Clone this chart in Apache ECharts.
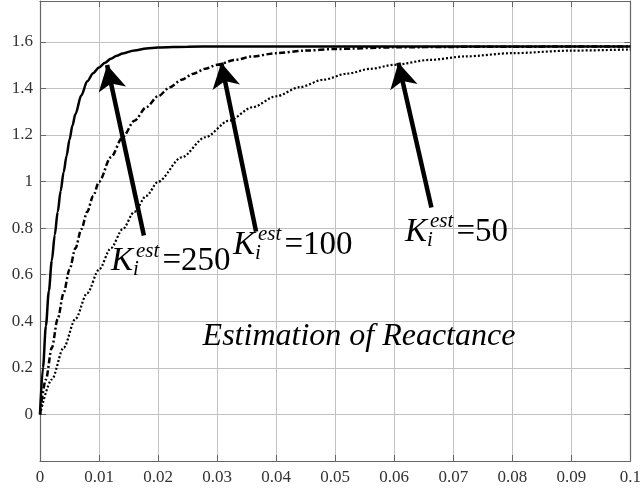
<!DOCTYPE html>
<html><head><meta charset="utf-8">
<script src="https://cdn.jsdelivr.net/npm/echarts@6/dist/echarts.min.js"></script>
<style>html,body{margin:0;padding:0;background:#fff}#c{width:644px;height:491px}</style>
</head><body><div id="c"></div>
<script>
// ---- data ----
const xTicks = [0, 0.01, 0.02, 0.03, 0.04, 0.05, 0.06, 0.07, 0.08, 0.09, 0.1];
const yTicks = [0, 0.2, 0.4, 0.6, 0.8, 1, 1.2, 1.4, 1.6];

const t250 = [0,0.0005,0.001,0.0015,0.002,0.0025,0.003,0.0035,0.004,0.0045,0.005,0.0055,0.006,0.007,0.008,0.009,0.010,0.011,0.012,0.013,0.014,0.016,0.018,0.020,0.025,0.030,0.040,0.060,0.080,0.100];
const v250 = [0,0.20,0.38,0.53,0.66,0.77,0.87,0.96,1.04,1.11,1.18,1.24,1.29,1.37,1.43,1.465,1.49,1.51,1.527,1.54,1.55,1.563,1.571,1.575,1.579,1.58,1.58,1.58,1.58,1.58];

const t100 = [0,0.001,0.002,0.003,0.004,0.005,0.006,0.007,0.008,0.009,0.010,0.012,0.014,0.016,0.018,0.020,0.022,0.024,0.026,0.028,0.030,0.033,0.036,0.040,0.045,0.050,0.060,0.070,0.080,0.100];
const v100 = [0,0.15,0.286,0.41,0.521,0.622,0.713,0.795,0.87,0.938,0.999,1.104,1.19,1.261,1.319,1.366,1.405,1.437,1.463,1.484,1.501,1.522,1.537,1.551,1.562,1.569,1.576,1.578,1.579,1.58];

const t50 = [0,0.002,0.004,0.006,0.008,0.010,0.012,0.014,0.016,0.018,0.020,0.024,0.028,0.032,0.036,0.040,0.044,0.048,0.052,0.056,0.060,0.066,0.072,0.080,0.090,0.100];
const v50 = [0,0.15,0.286,0.41,0.521,0.622,0.713,0.795,0.87,0.938,0.999,1.104,1.19,1.261,1.319,1.366,1.405,1.437,1.463,1.484,1.501,1.522,1.537,1.551,1.562,1.567];

// arrows: [tail, tip] in data coordinates
const arrow250 = [[0.0176, 0.768], [0.01136, 1.50]];
const arrow100 = [[0.0366, 0.785], [0.0307, 1.51]];
const arrow50  = [[0.0663, 0.888], [0.0607, 1.51]];

const pair = (t, v) => t.map((x, i) => [x, v[i]]);
const FONT = 'Liberation Serif';
const FONTCSS = '"Liberation Serif", serif';
const FRAME = '#666666';
const GRIDC = '#c2c2c2';
const TICKFS = 17;

function arrowLine(a) {
  return {
    silent: true,
    symbol: ['none', 'arrow'],
    label: { show: false },
    emphasis: { disabled: true },
    animation: false,
    lineStyle: { color: '#000', width: 4.5, type: 'solid' },
    data: [[
      { coord: a[0], symbol: 'none' },
      { coord: a[1], symbol: 'arrow', symbolSize: [21, 25] }
    ]]
  };
}

const chart = echarts.init(document.getElementById('c'), null, { renderer: 'canvas' });

const xFmt = v => (Math.abs(v) < 1e-9 ? '{t|0}' : (xTicks.some(t => Math.abs(t - v) < 1e-9) ? '{t|' + String(+v.toFixed(2)) + '}' : ''));
const yFmt = v => (yTicks.some(t => Math.abs(t - v) < 1e-9) ? '{t|' + String(+v.toFixed(1)) + '}' : '');

function lbl(fmt, margin) {
  return {
    show: true, color: '#333', fontFamily: FONT, fontSize: TICKFS, margin: margin, formatter: fmt,
    rich: { t: { fontSize: TICKFS, fontFamily: FONT, color: '#333', lineHeight: TICKFS + 2 } }
  };
}

chart.setOption({
  animation: false,
  backgroundColor: '#fff',
  textStyle: { fontFamily: FONT },
  grid: { left: 40, right: 5, top: 1, bottom: 30, show: false },
  xAxis: [
    {
      type: 'value', position: 'bottom', min: 0, max: 0.1, interval: 0.01,
      axisLine: { show: true, onZero: false, lineStyle: { color: FRAME, width: 1.2 } },
      axisTick: { show: true, inside: true, length: 6, lineStyle: { color: FRAME } },
      axisLabel: lbl(xFmt, 7),
      splitLine: { show: true, lineStyle: { color: GRIDC, width: 1 } }
    },
    {
      type: 'value', position: 'top', min: 0, max: 0.1, interval: 0.01,
      axisLine: { show: true, onZero: false, lineStyle: { color: FRAME, width: 1.2 } },
      axisTick: { show: true, inside: true, length: 6, lineStyle: { color: FRAME } },
      axisLabel: { show: false }, splitLine: { show: false }
    }
  ],
  yAxis: [
    {
      type: 'value', position: 'left', min: -0.2, max: 1.775, interval: 0.2,
      axisLine: { show: true, onZero: false, lineStyle: { color: FRAME, width: 1.2 } },
      axisTick: { show: true, inside: true, length: 6, lineStyle: { color: FRAME } },
      axisLabel: Object.assign(lbl(yFmt, 7), { showMaxLabel: false }),
      splitLine: { show: true, lineStyle: { color: GRIDC, width: 1 } }
    },
    {
      type: 'value', position: 'right', min: -0.2, max: 1.775, interval: 0.2,
      axisLine: { show: true, onZero: false, lineStyle: { color: FRAME, width: 1.2 } },
      axisTick: { show: true, inside: true, length: 6, lineStyle: { color: FRAME } },
      axisLabel: { show: false }, splitLine: { show: false }
    }
  ],
  series: [
    {
      name: 'K=250', type: 'line', data: pair(t250, v250), showSymbol: false,
      smooth: 0.3, smoothMonotone: 'x',
      lineStyle: { color: '#000', width: 2.5, type: 'solid' },
      silent: true, z: 3,
      markLine: arrowLine(arrow250)
    },
    {
      name: 'K=100', type: 'line', data: pair(t100, v100), showSymbol: false,
      smooth: 0.3, smoothMonotone: 'x',
      lineStyle: { color: '#000', width: 2.5, type: [6, 2.5, 2, 2.5] },
      silent: true, z: 2,
      markLine: arrowLine(arrow100)
    },
    {
      name: 'K=50', type: 'line', data: pair(t50, v50), showSymbol: false,
      smooth: 0.3, smoothMonotone: 'x',
      lineStyle: { color: '#000', width: 2.2, type: [2, 2] },
      silent: true, z: 1,
      markLine: arrowLine(arrow50)
    }
  ]
});

// ---- text annotations ----
function txt(str, x, baseline, size, italic, align) {
  return {
    type: 'text', silent: true, z: 100,
    style: {
      text: str, x: x, y: baseline - 0.34 * size,
      font: (italic ? 'italic ' : '') + size + 'px ' + FONTCSS,
      fill: '#000',
      textAlign: align || 'left', textVerticalAlign: 'middle'
    }
  };
}
function kLabel(left, base, num) {
  return [
    txt('K', left, base, 33, true),
    txt('i', left + 22, base + 4, 21, true),
    txt('est', left + 25, base - 14.7, 21, true),
    txt('=' + num, left + 51.5, base, 33, false)
  ];
}
chart.setOption({
  graphic: [].concat(
    kLabel(111, 273, '250'),
    kLabel(233, 256.7, '100'),
    kLabel(405, 243.3, '50'),
    [txt('Estimation of Reactance', 359, 347, 32, true, 'center')]
  )
});
</script></body></html>
